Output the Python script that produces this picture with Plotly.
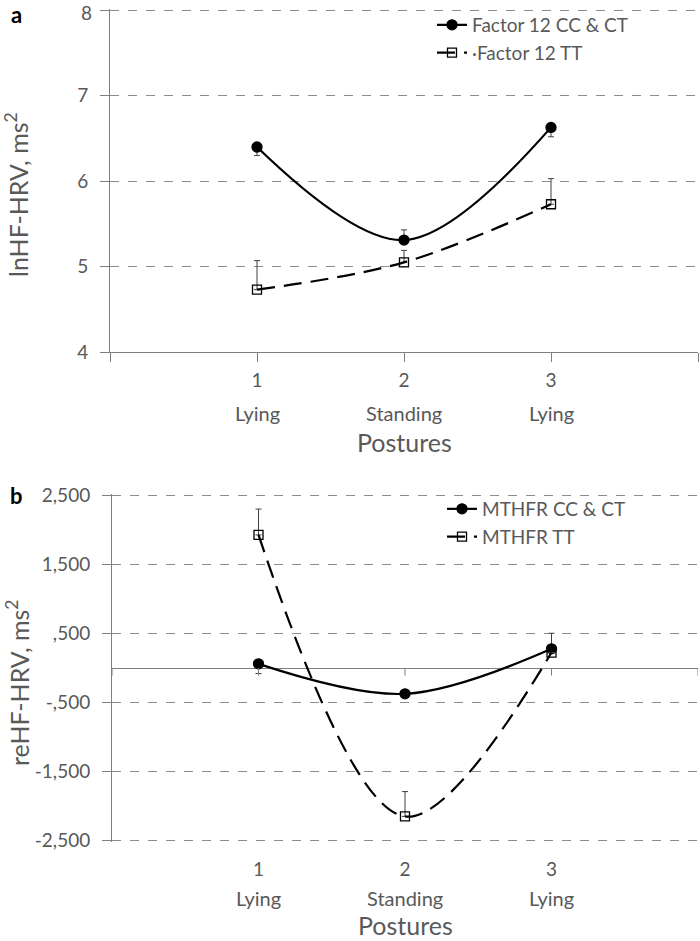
import plotly.graph_objects as go

# ---------------- data ----------------
postures = [1, 2, 3]
posture_names = ["Lying", "Standing", "Lying"]

# panel a
a_cc_name = "Factor 12 CC & CT"
a_cc = [6.40, 5.31, 6.63]
a_cc_err_plus = [0, 0.12, 0]
a_cc_err_minus = [0.10, 0, 0.11]
a_tt_name = "·Factor 12 TT"
a_tt = [4.73, 5.05, 5.73]
a_tt_err_plus = [0.34, 0.14, 0.30]
a_tt_err_minus = [0, 0, 0]
a_yticks = [4, 5, 6, 7, 8]
a_yticklabels = ["4", "5", "6", "7", "8"]

# panel b
b_cc_name = "MTHFR CC & CT"
b_cc = [60, -374, 278]
b_cc_err_plus = [0, 0, 225]
b_cc_err_minus = [140, 0, 0]
b_tt_name = "MTHFR TT"
b_tt = [1928, -2150, 224]
b_tt_err_plus = [374, 360, 0]
b_tt_err_minus = [0, 0, 0]
b_yticks = [-2500, -1500, -500, 500, 1500, 2500]
b_yticklabels = ["-2,500", "-1,500", "-,500", ",500", "1,500", "2,500"]

FONT = "Lato, 'Open Sans', sans-serif"
GRAY = "#595959"
AXC = "#7f7f7f"

fig = go.Figure()

def add_series(y, ep, em, name, xa, ya, circle, legend):
    fig.add_trace(go.Scatter(
        x=postures, y=y, name=name, xaxis=xa, yaxis=ya, legend=legend,
        mode="lines+markers",
        line=dict(color="black", width=2.2, shape="spline", smoothing=1.0,
                  dash=None if circle else "18px,9px"),
        marker=dict(symbol="circle" if circle else "square-open",
                    size=10 if circle else 9, color="black",
                    line=dict(color="black", width=1.3)),
        error_y=dict(type="data", symmetric=False, array=ep, arrayminus=em,
                     color="#404040", thickness=1, width=3),
    ))

add_series(a_cc, a_cc_err_plus, a_cc_err_minus, a_cc_name, "x", "y", True, "legend")
add_series(a_tt, a_tt_err_plus, a_tt_err_minus, a_tt_name, "x", "y", False, "legend")
add_series(b_cc, b_cc_err_plus, b_cc_err_minus, b_cc_name, "x2", "y2", True, "legend2")
add_series(b_tt, b_tt_err_plus, b_tt_err_minus, b_tt_name, "x2", "y2", False, "legend2")

W, H = 700, 941
def px_x(p): return p / W
def px_y(p): return 1 - p / H

tickfont = dict(family=FONT, size=19, color=GRAY)
labfont = dict(family=FONT, size=20, color=GRAY)
titlefont = dict(family=FONT, size=25, color=GRAY)
legfont = dict(family=FONT, size=19, color=GRAY)

# the top tick label of panel a sits at the page edge; draw it as an annotation
a_ticktext_axis = a_yticklabels[:-1] + [""]

fig.update_layout(
    width=W, height=H, margin=dict(l=0, r=0, t=0, b=0, autoexpand=False),
    paper_bgcolor="white", plot_bgcolor="white",
    font=dict(family=FONT, color=GRAY),
    xaxis=dict(domain=[px_x(110), px_x(698)], range=[0, 4], anchor="y",
               tickvals=[0, 1, 2, 3, 4], ticktext=["", "1", "2", "3", ""],
               ticks="outside", ticklen=9, tickcolor=AXC, showline=True,
               linecolor=AXC, linewidth=1, showgrid=False, zeroline=False,
               tickfont=tickfont, ticklabelstandoff=2, ticklabeloverflow="allow"),
    yaxis=dict(domain=[px_y(352), px_y(9)], range=[4, 8.016], anchor="x",
               tickvals=a_yticks, ticktext=a_ticktext_axis,
               ticks="outside", ticklen=9, tickcolor=AXC,
               showline=True, linecolor=AXC, linewidth=1,
               showgrid=True, gridcolor="#8c8c8c", griddash="dash", gridwidth=1,
               zeroline=False, tickfont=tickfont, ticklabelstandoff=8,
               ticklabeloverflow="allow"),
    xaxis2=dict(domain=[px_x(112), px_x(698)], range=[0, 4], anchor="y2",
                tickvals=[1, 2, 3], ticktext=["1", "2", "3"],
                ticks="", showline=False, showgrid=False, zeroline=False,
                tickfont=tickfont, ticklabelstandoff=14, ticklabeloverflow="allow"),
    yaxis2=dict(domain=[px_y(842), px_y(494)], range=[-2520, 2520], anchor="x2",
                tickvals=b_yticks, ticktext=b_yticklabels,
                ticks="outside", ticklen=9, tickcolor=AXC,
                showline=True, linecolor=AXC, linewidth=1,
                showgrid=True, gridcolor="#8c8c8c", griddash="dash", gridwidth=1,
                zeroline=True, zerolinecolor=AXC, zerolinewidth=1,
                tickfont=tickfont, ticklabelstandoff=8, ticklabeloverflow="allow"),
    legend=dict(x=px_x(432), y=px_y(6), xanchor="left", yanchor="top",
                bgcolor="rgba(0,0,0,0)", font=legfont,
                itemwidth=30, tracegroupgap=0),
    legend2=dict(x=px_x(442), y=px_y(490), xanchor="left", yanchor="top",
                 bgcolor="rgba(0,0,0,0)", font=legfont,
                 itemwidth=30, tracegroupgap=0),
    showlegend=True,
)

# small tick marks on the zero line of panel b
for xv in [0, 1, 2, 3, 4]:
    fig.add_shape(type="line", xref="x2", yref="y2", x0=xv, x1=xv, y0=0, y1=-110,
                  line=dict(color=AXC, width=1))

ann = []
for xv, nm in zip(postures, posture_names):
    ann.append(dict(x=xv, y=px_y(413), xref="x", yref="paper", text=nm, showarrow=False,
                    font=labfont, yanchor="middle"))
    ann.append(dict(x=xv, y=px_y(898), xref="x2", yref="paper", text=nm, showarrow=False,
                    font=labfont, yanchor="middle"))
ann += [
    dict(x=px_x(93), y=1, xref="paper", yref="paper", text=a_yticklabels[-1],
         showarrow=False, font=tickfont, xanchor="right", yanchor="top", borderpad=0),
    dict(x=2, y=px_y(442), xref="x", yref="paper", text="Postures", showarrow=False,
         font=titlefont, yanchor="middle"),
    dict(x=2, y=0, xref="x2", yref="paper", text="Postures", showarrow=False,
         font=titlefont, yanchor="bottom", borderpad=0),
    dict(x=px_x(17), y=px_y(195), xref="paper", yref="paper", text="lnHF-HRV, ms<sup>2</sup>",
         textangle=-90, showarrow=False, font=titlefont,
         xanchor="center", yanchor="middle"),
    dict(x=px_x(17), y=px_y(683), xref="paper", yref="paper", text="reHF-HRV, ms<sup>2</sup>",
         textangle=-90, showarrow=False, font=titlefont,
         xanchor="center", yanchor="middle"),
    dict(x=px_x(16), y=px_y(15), xref="paper", yref="paper", text="<b>a</b>",
         showarrow=False, font=dict(family=FONT, size=22, color="black"),
         xanchor="center", yanchor="middle"),
    dict(x=px_x(16), y=px_y(496), xref="paper", yref="paper", text="<b>b</b>",
         showarrow=False, font=dict(family=FONT, size=22, color="black"),
         xanchor="center", yanchor="middle"),
]
fig.update_layout(annotations=ann)

fig.write_html("out.html", config={"displayModeBar": False},
               post_script="document.body.style.margin='0';document.body.style.overflow='hidden';")
